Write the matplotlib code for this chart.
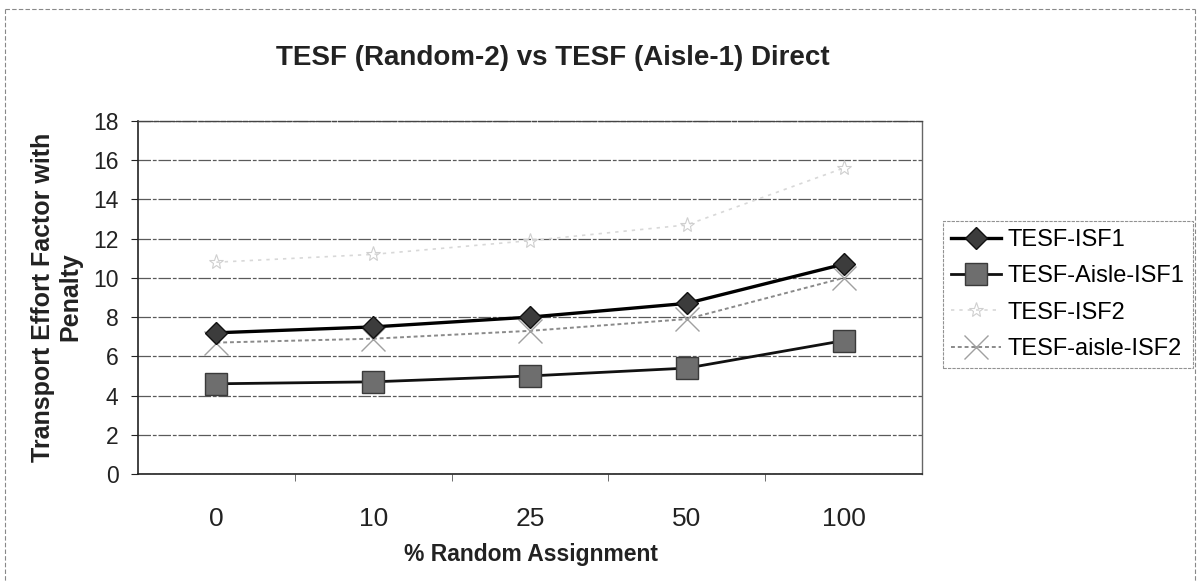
import matplotlib
matplotlib.use("Agg")
import matplotlib.pyplot as plt
from matplotlib.lines import Line2D
import numpy as np

plt.rcParams['font.family'] = ['Liberation Sans', 'DejaVu Sans']

categories = ['0', '10', '25', '50', '100']
tesf_isf1 = [7.2, 7.5, 8.0, 8.7, 10.7]
tesf_aisle_isf1 = [4.6, 4.7, 5.0, 5.4, 6.8]
tesf_isf2 = [10.8, 11.2, 11.9, 12.7, 15.6]
tesf_aisle_isf2 = [6.7, 6.9, 7.3, 7.9, 10.0]

W, H = 1198, 582
fig = plt.figure(figsize=(W / 100, H / 100), dpi=100)
ax = fig.add_axes([138 / W, 1 - 474 / H, 784 / W, 353 / H])

x = np.arange(len(categories))

ax.plot(x, tesf_isf1, color='black', lw=2.4, marker='D', markersize=11.5,
        markerfacecolor='#3c3c3c', markeredgecolor='#111111', markeredgewidth=1.0,
        label='TESF-ISF1', zorder=5)
ax.plot(x, tesf_aisle_isf1, color='#111111', lw=2.0, marker='s', markersize=16,
        markerfacecolor='#6e6e6e', markeredgecolor='#3a3a3a', markeredgewidth=1.0,
        label='TESF-Aisle-ISF1', zorder=4)
ax.plot(x, tesf_isf2, color='#d8d8d8', lw=1.2, ls=(0, (2, 3)), marker='*', markersize=11,
        markerfacecolor='none', markeredgecolor='#cfcfcf', markeredgewidth=0.8,
        label='TESF-ISF2', zorder=3)
ax.plot(x, tesf_aisle_isf2, color='#8a8a8a', lw=1.4, ls=(0, (2, 1.5)), marker='x', markersize=17,
        markeredgecolor='#a0a0a0', markeredgewidth=1.0,
        label='TESF-aisle-ISF2', zorder=4)

ax.set_xlim(-0.5, len(categories) - 0.5)
ax.set_ylim(0, 18)
ax.set_yticks(np.arange(0, 19, 2))
ax.set_xticks(x)
ax.set_xticklabels(categories)
ax.set_xticks(np.arange(0.5, len(categories) - 1, 1), minor=True)
ax.tick_params(axis='x', which='major', length=0, pad=24, labelsize=19, colors='#222222')
ax.tick_params(axis='x', which='minor', length=5, direction='out', color='#555555')
ax.tick_params(axis='y', length=5, direction='out', pad=9, labelsize=16.5, colors='#222222')

ax.grid(axis='y', color='#5a5a5a', lw=0.9, ls=(0, (10, 1.5, 3, 1.5)), zorder=0)
ax.set_axisbelow(True)

for side in ['left', 'bottom']:
    ax.spines[side].set_color('#222222')
    ax.spines[side].set_linewidth(1.2)
ax.spines['top'].set_color('#444444')
ax.spines['top'].set_linewidth(1.0)
ax.spines['top'].set_linestyle((0, (10, 1.5, 3, 1.5)))
ax.spines['right'].set_color('#666666')
ax.spines['right'].set_linewidth(1.0)
ax.spines['right'].set_linestyle((0, (2, 1)))

fig.text(531 / W, 1 - 555 / H, '% Random Assignment', ha='center', va='center',
         fontsize=16.5, fontweight='bold', color='#222222')
fig.text(57 / W, 1 - 297 / H, 'Transport Effort Factor with\nPenalty', rotation=90,
         ha='center', va='center', fontsize=18, fontweight='bold', color='#222222',
         linespacing=1.17)

fig.text(553 / W, 1 - 58 / H, 'TESF (Random-2) vs TESF (Aisle-1) Direct', ha='center', va='center',
         fontsize=20, fontweight='bold', color='#222222')

leg = fig.legend(loc='upper left', bbox_to_anchor=(943 / W, 1 - 221 / H), fontsize=17,
                 frameon=True, fancybox=False, handlelength=2.1, handletextpad=0.3,
                 borderpad=0.35, labelspacing=0.6, borderaxespad=0)
leg.get_frame().set_edgecolor('#777777')
leg.get_frame().set_linewidth(0.8)
leg.get_frame().set_linestyle((0, (3, 1)))

# dashed page frame (top, left, right)
for xs, ys in [([5, 1195], [9, 9]), ([5, 5], [9, 582]), ([1195, 1195], [9, 582])]:
    fig.add_artist(Line2D([v / W for v in xs], [1 - v / H for v in ys], transform=fig.transFigure,
                          color='#888888', lw=0.8, ls=(0, (4, 2))))

fig.savefig('out.png', dpi=100)
